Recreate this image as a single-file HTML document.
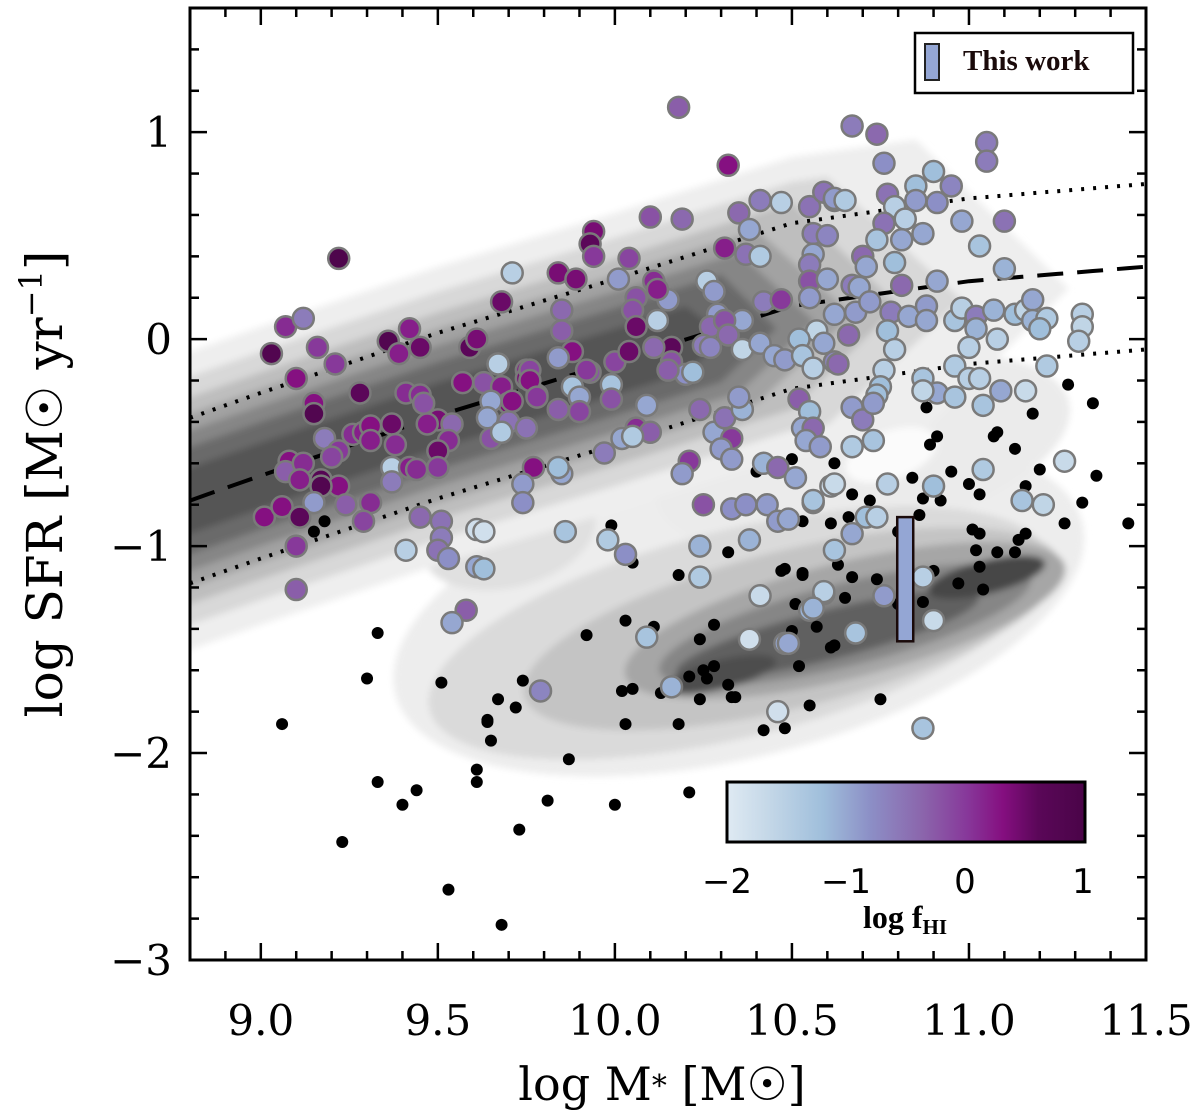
<!DOCTYPE html>
<html><head><meta charset="utf-8">
<style>
html,body{margin:0;padding:0;background:#fff;}
svg{display:block;}
</style></head>
<body>
<svg id="chart" width="1200" height="1120" viewBox="0 0 1200 1120" xmlns="http://www.w3.org/2000/svg">
<defs>
<filter id="blur5" x="-30%" y="-30%" width="160%" height="160%"><feGaussianBlur stdDeviation="3.5"/></filter>
<linearGradient id="cbgrad" x1="0" x2="1" y1="0" y2="0">
<stop offset="0" stop-color="#dfeaf3"/>
<stop offset="0.1" stop-color="#c8dae9"/>
<stop offset="0.27" stop-color="#9fbedb"/>
<stop offset="0.4" stop-color="#8c8fc6"/>
<stop offset="0.55" stop-color="#8b64ab"/>
<stop offset="0.67" stop-color="#87389a"/>
<stop offset="0.77" stop-color="#850f80"/>
<stop offset="0.87" stop-color="#5a0758"/>
<stop offset="1" stop-color="#4a0448"/>
</linearGradient>
<clipPath id="plotclip"><rect x="190" y="8" width="956" height="952"/></clipPath>
</defs>
<g id="contours" clip-path="url(#plotclip)"></g>
<g id="lines" clip-path="url(#plotclip)"></g>
<g id="qdots" clip-path="url(#plotclip)"></g>
<g id="hidots" clip-path="url(#plotclip)"></g>
<g id="extra"></g>
<g id="axes"></g>
<g id="colorbar">
  <rect x="727" y="782" width="358" height="60" fill="url(#cbgrad)" stroke="#000" stroke-width="3"/>
  <text x="727" y="893" font-size="34" text-anchor="middle" font-family="DejaVu Sans, sans-serif">−2</text>
  <text x="846" y="893" font-size="34" text-anchor="middle" font-family="DejaVu Sans, sans-serif">−1</text>
  <text x="965" y="893" font-size="34" text-anchor="middle" font-family="DejaVu Sans, sans-serif">0</text>
  <text x="1083" y="893" font-size="34" text-anchor="middle" font-family="DejaVu Sans, sans-serif">1</text>
  <text x="905" y="928" font-size="32" font-weight="bold" text-anchor="middle" font-family="Liberation Serif, serif">log  f<tspan font-size="21" dy="6">HI</tspan></text>
</g>
<g id="legend">
  <rect x="915" y="33" width="218" height="60" fill="#fff" stroke="#000" stroke-width="2.5"/>
  <rect x="925" y="44" width="14" height="36" fill="#94a6d4" stroke="#222" stroke-width="2"/>
  <text x="963" y="70" font-size="29" font-weight="bold" fill="#1a0a0a" font-family="Liberation Serif, serif">This work</text>
</g>
<text x="662" y="1100" font-size="46" text-anchor="middle" font-family="DejaVu Serif, serif">log M<tspan font-size="30" dy="-4">*</tspan><tspan dy="4"> [M☉]</tspan></text>
<text transform="translate(62,484) rotate(-90)" font-size="50" text-anchor="middle" font-family="DejaVu Serif, serif">log SFR [M☉ yr<tspan font-size="32" dy="-20">−1</tspan><tspan dy="20">]</tspan></text>
</svg>
<script>
// ---- data ----
const xDomain = [8.8, 11.5];
const yDomain = [-3.0, 1.6];
const xTickVals = [9.0, 9.5, 10.0, 10.5, 11.0, 11.5];
const xTickLabels = ["9.0", "9.5", "10.0", "10.5", "11.0", "11.5"];
const yTickVals = [1, 0, -1, -2, -3];
const yTickLabels = ["1", "0", "−1", "−2", "−3"];
const msX = [8.8, 9.0, 9.5, 10.0, 10.5, 11.0, 11.5];
const msY = [-0.78, -0.66, -0.37, -0.11, 0.16, 0.28, 0.35];
const msScatter = 0.4;
// main-sequence density levels: half-width (dex), x-extent end, gray
const bandHalf = [0.72, 0.6, 0.5, 0.42, 0.34, 0.26, 0.16];
const bandEnd = [10.85, 10.62, 10.5, 10.42, 10.36, 10.3, 10.22];
const bandGray = ["#eeeeee", "#d8d8d8", "#bebebe", "#a2a2a2", "#868686", "#6a6a6a", "#555555"];
// broad light / quiescent density blobs (data units)
const blobX = [10.35, 10.7, 9.7, 10.35, 10.5, 10.65, 10.65, 10.6, 11.05, 10.3];
const blobY = [-1.3, -0.55, -0.95, -1.42, -1.4, -1.36, -1.38, -1.43, -1.15, -1.62];
const blobRx = [1.0, 0.6, 0.25, 0.9, 0.78, 0.64, 0.54, 0.44, 0.17, 0.16];
const blobRy = [0.72, 0.42, 0.25, 0.5, 0.38, 0.28, 0.2, 0.12, 0.08, 0.07];
const blobGray = ["#ededed", "#ebebeb", "#e0e0e0", "#dadada", "#c4c4c4", "#a6a6a6", "#868686", "#606060", "#474747", "#4e4e4e"];
// galaxies with HI (log M*, log SFR, log fHI)
const hiX = [9.22,9.07,9.12,9.03,9.16,9.21,9.1,9.28,9.15,9.15,9.18,9.22,9.2,9.26,9.29,9.31,9.31,9.37,9.38,9.08,9.07,9.12,9.11,9.17,9.22,9.17,9.15,9.24,9.01,9.06,9.11,9.31,9.29,9.1,9.1,9.68,9.71,9.84,9.89,9.36,9.39,9.45,9.42,9.59,9.61,9.67,9.57,9.63,9.68,9.7,9.65,9.64,9.7,9.75,9.65,9.68,9.75,9.75,9.78,9.41,9.45,9.46,9.5,9.47,9.54,9.53,9.5,9.5,9.37,9.37,9.42,9.44,9.45,9.51,9.51,9.5,9.53,9.61,9.41,9.61,9.58,9.54,
10.18,10.32,10.1,10.19,9.94,9.93,9.94,10.04,10.01,9.85,9.85,9.88,9.84,9.93,9.76,9.76,9.78,9.71,9.67,9.88,9.9,9.92,9.99,9.99,9.84,9.9,10.09,10.06,10.11,10.15,10.12,10.05,10.06,10.12,10.16,10.11,10.0,10.04,10.16,10.2,10.22,10.15,10.26,10.28,10.29,10.27,10.36,10.31,10.25,10.27,10.32,10.36,10.41,10.45,10.48,10.42,10.47,10.31,10.37,10.41,10.35,10.38,10.41,10.47,10.55,10.59,10.62,10.56,10.6,10.56,10.55,10.55,10.6,10.55,10.62,10.57,10.52,10.59,10.53,10.56,10.62,10.52,10.55,10.53,10.56,10.54,10.58,10.24,10.28,10.31,10.36,10.35,10.33,10.3,10.33,10.06,10.02,10.1,10.05,9.97,9.85,9.77,9.74,9.74,9.84,10.21,10.19,10.25,10.33,10.37,10.43,10.46,10.49,10.42,10.46,10.51,10.56,10.61,10.38,10.24,10.24,10.41,10.59,10.55,10.62,9.86,9.98,10.03,9.63,9.63,10.09,10.38,10.48,10.16,10.46,9.79,
10.67,10.74,10.76,10.9,10.85,10.95,11.05,11.05,10.62,10.65,10.77,10.79,10.85,10.91,10.82,10.76,10.74,10.81,10.87,10.98,11.1,11.03,10.7,10.71,10.67,10.69,10.79,10.81,10.91,11.1,10.68,10.72,10.78,10.83,10.88,10.88,10.96,10.98,11.02,11.02,11.07,11.08,11.13,11.16,11.18,11.18,11.22,11.2,11.32,11.32,11.31,10.66,10.63,10.77,10.79,10.76,10.75,10.74,11.0,10.96,11.0,11.03,10.87,10.91,10.96,11.04,11.09,11.16,11.22,10.87,10.67,10.7,10.73,10.67,10.73,11.04,11.27,10.77,10.9,10.62,10.56,10.71,10.74,11.15,11.21,10.67,10.87,10.76,10.59,10.56,10.68,10.9,10.49,10.87];
const hiY = [0.39,0.06,0.1,-0.07,-0.04,-0.12,-0.19,-0.26,-0.31,-0.36,-0.48,-0.54,-0.57,-0.46,-0.45,-0.42,-0.49,-0.41,-0.51,-0.59,-0.64,-0.6,-0.68,-0.68,-0.71,-0.71,-0.79,-0.8,-0.86,-0.81,-0.86,-0.79,-0.88,-1.0,-1.21,0.18,0.32,0.32,0.29,-0.01,-0.07,-0.04,0.05,-0.04,0.0,-0.12,-0.21,-0.21,-0.23,-0.31,-0.3,-0.38,-0.4,-0.43,-0.48,-0.45,-0.15,-0.19,-0.27,-0.26,-0.27,-0.31,-0.39,-0.41,-0.41,-0.49,-0.54,-0.62,-0.62,-0.69,-0.62,-0.63,-0.86,-0.88,-0.96,-1.02,-1.06,-0.92,-1.02,-1.1,-1.31,-1.37,
1.12,0.84,0.59,0.58,0.52,0.46,0.4,0.39,0.29,0.14,0.04,-0.06,-0.09,-0.16,-0.15,-0.2,-0.28,-0.3,-0.12,-0.23,-0.28,-0.15,-0.22,-0.29,-0.34,-0.35,-0.32,0.2,0.28,0.19,0.24,0.14,0.06,0.09,-0.04,-0.04,-0.11,-0.06,-0.11,-0.17,-0.16,-0.15,0.28,0.23,0.12,0.06,0.09,0.09,-0.03,-0.04,0.02,-0.05,-0.02,-0.08,-0.1,0.18,0.19,0.44,0.41,0.4,0.61,0.53,0.67,0.66,0.64,0.71,0.67,0.51,0.5,0.41,0.36,0.28,0.29,0.2,0.12,0.04,0.0,-0.02,-0.08,-0.14,-0.11,-0.29,-0.35,-0.43,-0.43,-0.49,-0.52,-0.34,-0.45,-0.38,-0.34,-0.28,-0.48,-0.53,-0.58,-0.43,-0.48,-0.45,-0.47,-0.55,-0.65,-0.62,-0.7,-0.79,-0.62,-0.59,-0.65,-0.8,-0.82,-0.8,-0.8,-0.88,-0.87,-0.6,-0.62,-0.67,-0.79,-0.71,-0.97,-1.0,-1.15,-1.24,-1.23,-1.31,-1.02,-0.93,-0.97,-1.04,-0.93,-1.11,-1.44,-1.45,-1.47,-1.68,-1.8,-1.7,
1.03,0.99,0.85,0.81,0.74,0.74,0.95,0.86,0.68,0.67,0.7,0.64,0.67,0.66,0.58,0.56,0.48,0.48,0.51,0.57,0.57,0.45,0.4,0.35,0.26,0.25,0.37,0.26,0.28,0.34,0.13,0.18,0.13,0.11,0.16,0.09,0.09,0.15,0.11,0.05,0.14,0.0,0.12,0.14,0.19,0.09,0.1,0.05,0.12,0.06,-0.01,0.02,-0.12,0.04,-0.05,-0.15,-0.23,-0.27,-0.04,-0.13,-0.19,-0.19,-0.19,-0.26,-0.28,-0.32,-0.25,-0.25,-0.13,-0.25,-0.33,-0.39,-0.31,-0.52,-0.49,-0.63,-0.59,-0.7,-0.71,-0.7,-0.78,-0.86,-0.86,-0.78,-0.8,-0.94,-1.15,-1.24,-1.22,-1.3,-1.42,-1.36,-1.47,-1.88];
const hiF = [0.9,0.1,-0.6,0.8,0.0,0.0,0.3,0.6,0.3,0.8,-0.6,0.0,-0.1,0.1,0.2,0.3,0.2,0.5,0.1,0.3,-0.3,0.1,0.2,0.7,0.3,0.8,-0.9,-0.3,0.3,0.3,0.6,0.1,-0.1,0.0,-0.3,0.5,-1.5,0.4,0.4,0.8,0.2,0.5,0.2,0.6,0.4,-1.5,0.3,-0.2,0.2,0.4,-1.0,-1.0,-0.5,-0.5,-0.2,-1.4,0.2,0.4,0.3,0.1,0.1,-0.2,0.4,0.2,-0.4,0.1,0.5,0.0,-1.5,-0.6,0.2,0.1,-0.4,-0.5,-0.6,-0.5,-0.8,-1.8,-1.5,-1.0,-0.3,-1.0,
-0.3,0.3,-0.2,-0.4,0.4,0.6,0.0,-0.1,-0.9,-0.4,-0.3,0.3,-0.9,-0.2,-0.1,0.3,0.0,0.3,-1.5,-1.3,-1.0,0.0,-1.3,-0.2,-0.3,-0.1,-1.0,-0.2,0.1,-0.9,0.2,-0.2,0.5,-1.5,0.6,-0.4,-0.1,0.5,-0.2,-0.8,-1.2,-0.3,-1.5,-0.9,-0.9,-0.4,-1.0,-0.2,-0.6,-0.7,-0.4,-1.6,-1.0,-1.0,-0.9,-0.6,0.0,0.2,-0.5,-1.4,-0.4,-1.0,-0.6,-1.5,-0.5,-0.5,-0.8,-0.6,-0.7,-1.0,-0.6,-0.2,-1.0,-0.9,-1.0,-1.6,-1.2,-1.0,-1.3,-1.5,-0.7,-0.3,-1.2,-1.0,-0.4,-1.0,-0.9,-0.4,-1.0,-0.5,-1.1,-0.9,0.0,-0.9,-0.9,0.1,-1.0,-0.3,-1.4,-0.6,-1.0,0.3,-0.9,-0.8,-1.2,0.0,-0.9,-0.2,-0.8,-0.8,-0.9,-0.9,-1.0,-1.1,-0.4,-1.0,-1.3,-1.8,-1.1,-1.1,-1.4,-1.7,-1.3,-1.1,-1.3,-1.3,-1.4,-0.8,-1.8,-1.2,-1.3,-1.8,-1.0,-1.1,-1.8,-0.7,
-0.6,-0.4,-0.8,-1.2,-1.2,-0.7,-0.6,-0.6,-0.9,-1.4,-0.5,-1.5,-0.9,-0.8,-1.5,-0.5,-1.3,-1.0,-1.0,-1.0,-0.5,-1.3,-0.4,-1.0,-0.6,-1.0,-1.2,-0.4,-1.0,-1.1,-0.9,-0.9,-0.6,-1.0,-0.9,-1.0,-1.3,-1.5,-0.6,-1.1,-1.1,-1.5,-1.2,-1.6,-1.0,-1.1,-1.4,-1.2,-1.5,-1.6,-1.5,-0.4,-0.4,-1.2,-1.5,-1.5,-1.2,-1.2,-1.5,-1.4,-1.5,-1.5,-1.3,-1.0,-1.3,-1.3,-1.0,-1.7,-1.4,-1.6,-0.9,-0.6,-0.9,-1.4,-1.3,-1.4,-1.7,-1.5,-1.2,-1.7,-1.3,-1.2,-1.5,-1.3,-1.6,-1.0,-1.5,-0.9,-1.5,-1.1,-1.3,-1.7,-1.0,-1.3];
// quiescent / no-HI galaxies (black dots)
const qX = [11.28,11.35,11.18,10.88,10.91,10.89,11.07,11.08,11.13,10.62,10.5,10.95,11.2,11.36,10.84,11.0,11.03,11.16,11.32,11.45,11.27,10.67,10.72,10.66,10.61,10.53,10.87,10.92,10.86,10.8,11.01,11.03,11.16,11.14,11.02,11.08,11.13,11.03,11.04,10.97,10.9,10.87,10.8,10.74,10.67,10.65,10.63,10.53,10.48,10.51,10.57,10.5,10.61,10.62,10.52,10.55,10.75,10.48,
10.4,10.32,9.99,10.05,10.18,10.47,10.53,9.92,10.03,10.11,10.24,10.28,10.25,10.28,10.21,10.26,10.32,10.33,10.34,10.02,10.05,10.13,10.24,9.74,9.67,9.72,9.64,10.03,10.18,
9.18,9.15,9.06,9.33,9.3,9.33,9.4,9.44,9.23,9.51,9.64,9.65,9.61,9.61,9.53,9.68,9.73,9.81,9.87,10.0,10.21,10.42];
const qY = [-0.22,-0.31,-0.36,-0.33,-0.47,-0.51,-0.47,-0.45,-0.53,-0.6,-0.58,-0.64,-0.63,-0.66,-0.67,-0.7,-0.75,-0.71,-0.79,-0.89,-0.89,-0.75,-0.78,-0.86,-0.89,-0.88,-0.77,-0.78,-0.85,-0.93,-0.92,-0.94,-0.94,-0.97,-1.02,-1.03,-1.03,-1.1,-1.21,-1.18,-1.12,-1.27,-1.28,-1.16,-1.15,-1.25,-1.09,-1.13,-1.11,-1.28,-1.39,-1.41,-1.49,-1.48,-1.58,-1.77,-1.74,-1.88,
-0.64,-1.03,-0.9,-1.08,-1.14,-1.12,-1.14,-1.43,-1.36,-1.39,-1.45,-1.38,-1.6,-1.58,-1.63,-1.64,-1.67,-1.73,-1.73,-1.7,-1.69,-1.71,-1.74,-1.65,-1.74,-1.78,-1.84,-1.86,-1.86,
-0.88,-0.93,-1.86,-1.42,-1.64,-2.14,-2.25,-2.18,-2.43,-1.66,-1.85,-1.94,-2.08,-2.14,-2.66,-2.83,-2.37,-2.23,-2.03,-2.25,-2.19,-1.89];
// this-work bar
const twX = 10.82, twLo = -1.46, twHi = -0.86;

// ---- scales ----
const PL = 190, PR = 1146, PT = 8, PB = 960;
const sx = v => PL + (v - xDomain[0]) / (xDomain[1] - xDomain[0]) * (PR - PL);
const sy = v => PB - (v - yDomain[0]) / (yDomain[1] - yDomain[0]) * (PB - PT);
const NS = "http://www.w3.org/2000/svg";
function mk(tag, attrs, parent) {
  const e = document.createElementNS(NS, tag);
  for (const k in attrs) e.setAttribute(k, attrs[k]);
  parent.appendChild(e);
  return e;
}
function msAt(x) {
  for (let i = 0; i < msX.length - 1; i++) {
    if (x <= msX[i + 1]) { const t = (x - msX[i]) / (msX[i + 1] - msX[i]); return msY[i] + t * (msY[i + 1] - msY[i]); }
  }
  return msY[msY.length - 1];
}
const BuPu = [[0,[223,234,243]],[0.1,[200,218,233]],[0.27,[159,190,219]],[0.4,[140,143,198]],[0.55,[139,100,171]],[0.67,[135,56,154]],[0.77,[133,15,128]],[0.87,[90,7,88]],[1,[74,4,72]]];
function cmap(f) {
  let t = Math.max(0, Math.min(1, (f + 2) / 3));
  for (let i = 0; i < BuPu.length - 1; i++) {
    if (t <= BuPu[i + 1][0]) {
      const a = BuPu[i], b = BuPu[i + 1], u = (t - a[0]) / (b[0] - a[0]);
      const c = a[1].map((v, j) => Math.round(v + u * (b[1][j] - v)));
      return `rgb(${c[0]},${c[1]},${c[2]})`;
    }
  }
  return "rgb(74,4,72)";
}

// ---- contours ----
const cg = document.getElementById("contours");
const blurG = mk("g", {filter: "url(#blur5)"}, cg);


function blob(i, name) {
  const cx = sx(blobX[i]), cy = sy(blobY[i]);
  const e = mk("ellipse", {cx: cx, cy: cy, rx: blobRx[i] * (PR - PL) / 2.7, ry: blobRy[i] * (PB - PT) / 4.6, fill: blobGray[i], transform: `rotate(-14 ${cx} ${cy})`}, blurG);
  
  
}
for (let i = 0; i < 3; i++) blob(i, 'density-blob');
// main sequence band levels
for (let l = 0; l < bandHalf.length; l++) {
  const pts = [];
  const xs = [];
  for (let x = 8.7; x <= bandEnd[l] + 1e-6; x += 0.05) xs.push(x);
  xs.forEach(x => pts.push(`${sx(x)},${sy(msAt(x) + bandHalf[l])}`));
  const xe = bandEnd[l] + bandHalf[l] * 0.6;
  pts.push(`${sx(xe)},${sy(msAt(bandEnd[l]))}`);
  xs.slice().reverse().forEach(x => pts.push(`${sx(x)},${sy(msAt(x) - bandHalf[l])}`));
  const p = mk("polygon", {points: pts.join(" "), fill: bandGray[l]}, blurG);
  
  
}
for (let i = 3; i < blobX.length; i++) blob(i, 'quiescent-contour');
// white pocket
const hole = mk("ellipse", {cx: sx(10.78), cy: sy(-0.56), rx: 48, ry: 24, fill: "#fbfbfb", transform: `rotate(-20 ${sx(10.78)} ${sy(-0.56)})`}, blurG);



// ---- lines ----
const lg = document.getElementById("lines");
function pathFor(off) {
  const d = [];
  for (let x = 8.8; x <= 11.5 + 1e-6; x += 0.05) d.push(`${d.length ? "L" : "M"}${sx(x).toFixed(1)},${sy(msAt(x) + off).toFixed(1)}`);
  return d.join("");
}
const dash = mk("path", {d: pathFor(0), fill: "none", stroke: "#000", "stroke-width": 4, "stroke-dasharray": "26,14"}, lg);


[msScatter, -msScatter].forEach((o, k) => {
  const d = mk("path", {d: pathFor(o), fill: "none", stroke: "#000", "stroke-width": 4, "stroke-dasharray": "3,9"}, lg);
  
  
});

// ---- black dots ----
const qg = document.getElementById("qdots");
for (let i = 0; i < qX.length; i++) {
  const c = mk("circle", {cx: sx(qX[i]), cy: sy(qY[i]), r: 6, fill: "#000"}, qg);
  
  
}
// ---- HI points ----
const hg = document.getElementById("hidots");
for (let i = 0; i < hiX.length; i++) {
  const c = mk("circle", {cx: sx(hiX[i]), cy: sy(hiY[i]), r: 10.5, fill: cmap(hiF[i]), stroke: "#7a7a7a", "stroke-width": 2.5}, hg);
  
  
}
// ---- this work bar ----
const eg = document.getElementById("extra");
const tw = mk("rect", {x: sx(twX) - 8, y: sy(twHi), width: 16, height: sy(twLo) - sy(twHi), fill: "#94a6d4", stroke: "#1a0a0a", "stroke-width": 2.5}, eg);



// ---- axes ----
const ag = document.getElementById("axes");
const frame = mk("rect", {x: PL, y: PT, width: PR - PL, height: PB - PT, fill: "none", stroke: "#000", "stroke-width": 3}, ag);


for (let k = 0; k <= 27; k++) {
  const v = 8.8 + k * 0.1;
  const major = Math.abs(v * 2 - Math.round(v * 2)) < 1e-6;
  const L = major ? 17 : 9;
  const x = sx(v);
  const t1 = mk("line", {x1: x, x2: x, y1: PB, y2: PB - L, stroke: "#000", "stroke-width": 2.5}, ag);
  
  
  const t2 = mk("line", {x1: x, x2: x, y1: PT, y2: PT + L, stroke: "#000", "stroke-width": 2.5}, ag);
  
  
}
for (let k = 0; k <= 23; k++) {
  const v = -3 + k * 0.2;
  const major = Math.abs(v - Math.round(v)) < 1e-6;
  const L = major ? 17 : 9;
  const y = sy(v);
  const t1 = mk("line", {x1: PL, x2: PL + L, y1: y, y2: y, stroke: "#000", "stroke-width": 2.5}, ag);
  
  
  const t2 = mk("line", {x1: PR, x2: PR - L, y1: y, y2: y, stroke: "#000", "stroke-width": 2.5}, ag);
  
  
}
xTickVals.forEach((v, i) => {
  const t = mk("text", {x: sx(v), y: 1035, "font-size": 42, "text-anchor": "middle", "font-family": "DejaVu Serif, serif"}, ag);
  t.textContent = xTickLabels[i];
  
  
});
yTickVals.forEach((v, i) => {
  const t = mk("text", {x: 172, y: sy(v) + 15, "font-size": 42, "text-anchor": "end", "font-family": "DejaVu Serif, serif"}, ag);
  t.textContent = yTickLabels[i];
  
  
});
</script>
</body></html>
